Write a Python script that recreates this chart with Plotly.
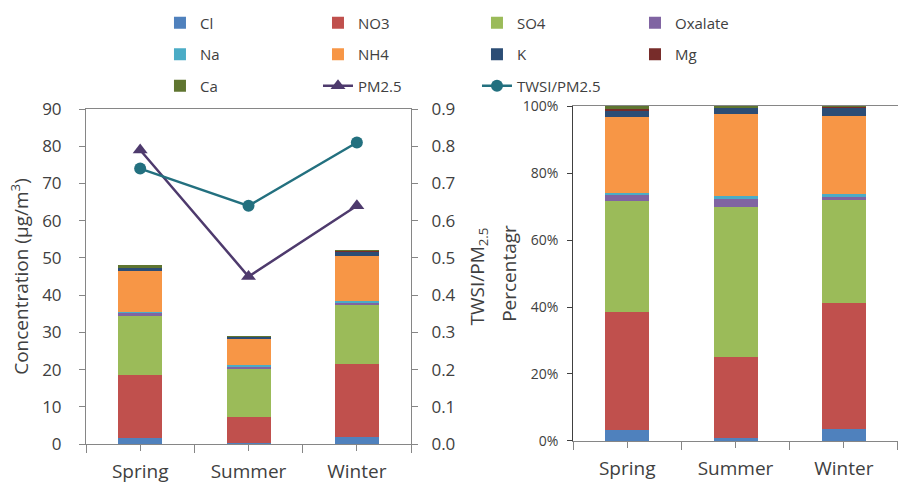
import plotly.graph_objects as go

# Seasonal water-soluble ion concentrations (μg/m³)
seasons = ["Spring", "Summer", "Winter"]
cl = [1.6, 0.3, 1.9]
no3 = [16.9, 6.9, 19.5]
so4 = [15.9, 13.0, 16.0]
oxalate = [0.8, 0.7, 0.5]
na = [0.3, 0.2, 0.5]
nh4 = [10.9, 7.1, 12.1]
k = [1.0, 0.55, 1.3]
mg = [0.1, 0.03, 0.05]
ca = [0.5, 0.1, 0.15]

# PM2.5 mass (μg/m³) and the TWSI/PM2.5 ratio
pm25 = [79, 45, 64]
twsi_ratio = [0.74, 0.64, 0.81]

ion_names = ["Cl", "NO3", "SO4", "Oxalate", "Na", "NH4", "K", "Mg", "Ca"]
ion_values = [cl, no3, so4, oxalate, na, nh4, k, mg, ca]
ion_colors = ["#4F81BD", "#C0504D", "#9BBB59", "#8064A2", "#4BACC6",
              "#F79646", "#2C4D75", "#772C2A", "#5F7530"]
# legend column for each ion (4 columns, filled row by row)
ion_legend = ["legend", "legend2", "legend3", "legend4",
              "legend", "legend2", "legend3", "legend4", "legend"]

xpos = list(range(len(seasons)))
totals = [sum(v[i] for v in ion_values) for i in xpos]

GRID = "#868686"
TXT = "#404040"

fig = go.Figure()

for name, vals, col, lg in zip(ion_names, ion_values, ion_colors, ion_legend):
    fig.add_trace(go.Bar(
        x=xpos, y=vals, name=name, marker=dict(color=col, line=dict(width=0)),
        xaxis="x", yaxis="y", legend=lg, legendgroup=name,
    ))

for name, vals, col in zip(ion_names, ion_values, ion_colors):
    pct = [100 * v / t for v, t in zip(vals, totals)]
    fig.add_trace(go.Bar(
        x=xpos, y=pct, name=name, marker=dict(color=col, line=dict(width=0)),
        xaxis="x2", yaxis="y3", showlegend=False, legendgroup=name,
    ))

fig.add_trace(go.Scatter(
    x=xpos, y=pm25, name="PM2.5", mode="lines+markers",
    line=dict(color="#4E3A6D", width=2.5),
    marker=dict(symbol="triangle-up", size=13, color="#4E3A6D"),
    xaxis="x", yaxis="y", legend="legend2", legendgroup="PM2.5",
))
fig.add_trace(go.Scatter(
    x=xpos, y=twsi_ratio, name="TWSI/PM2.5", mode="lines+markers",
    line=dict(color="#23707F", width=2.5),
    marker=dict(symbol="circle", size=12, color="#23707F"),
    xaxis="x", yaxis="y2", legend="legend3", legendgroup="TWSI",
))

legend_common = dict(
    orientation="v", xanchor="left", yanchor="top", y=1.2946,
    font=dict(size=15, color=TXT), bgcolor="rgba(0,0,0,0)",
    traceorder="grouped", tracegroupgap=9,
)

boundaries = [p - 0.5 for p in xpos] + [xpos[-1] + 0.5]

xaxis_common = dict(
    range=[-0.5, len(seasons) - 0.5], tickvals=xpos, ticktext=seasons,
    ticks="outside", ticklen=6, tickcolor=GRID, showline=True, linecolor=GRID,
    mirror=True, showgrid=False, zeroline=False, automargin=False,
    tickfont=dict(size=19, color=TXT), ticklabelstandoff=4,
    minor=dict(tickmode="array", tickvals=boundaries, ticks="outside",
               ticklen=8, tickcolor=GRID, showgrid=False),
)

fig.update_layout(
    width=898, height=484,
    margin=dict(l=86, r=0, t=106, b=40, autoexpand=False),
    barmode="stack", bargap=0.594,
    plot_bgcolor="white", paper_bgcolor="white",
    font=dict(family="Open Sans", color=TXT),
    showlegend=True,
    legend=dict(x=0.0911, **legend_common),
    legend2=dict(x=0.2857, **legend_common),
    legend3=dict(x=0.4815, **legend_common),
    legend4=dict(x=0.6761, **legend_common),
    xaxis=dict(domain=[0, 0.4003], anchor="y", **xaxis_common),
    yaxis=dict(
        domain=[0, 0.991], anchor="x", range=[0, 90], dtick=10,
        ticks="outside", ticklen=6, tickcolor=GRID, showline=True,
        linecolor=GRID, showgrid=False, zeroline=False, automargin=False,
        tickfont=dict(size=17, color=TXT), ticklabelstandoff=14,
        title=dict(text="Concentration (μg/m<sup>3</sup>)",
                   font=dict(size=19, color=TXT), standoff=8),
    ),
    yaxis2=dict(
        overlaying="y", side="right", anchor="x", range=[0, 0.9], dtick=0.1,
        tickformat=".1f", ticks="outside", ticklen=6, tickcolor=GRID,
        showline=True, linecolor=GRID, showgrid=False, zeroline=False,
        automargin=False,
        tickfont=dict(size=17, color=TXT), ticklabelstandoff=10,
        title=dict(text="TWSI/PM<sub>2.5</sub>",
                   font=dict(size=19, color=TXT), standoff=16),
    ),
    xaxis2=dict(domain=[0.5998, 1], anchor="y3", **xaxis_common),
    yaxis3=dict(
        domain=[0.0089, 1], anchor="x2", range=[0, 100], dtick=20,
        ticksuffix="%", ticks="outside", ticklen=5, tickcolor=TXT,
        showline=True, linecolor=TXT, showgrid=False, zeroline=False,
        automargin=False,
        tickfont=dict(size=14, color=TXT), ticklabelstandoff=6,
        title=dict(text="Percentagr", font=dict(size=19, color=TXT),
                   standoff=0),
    ),
)

fig.write_html("out.html")
